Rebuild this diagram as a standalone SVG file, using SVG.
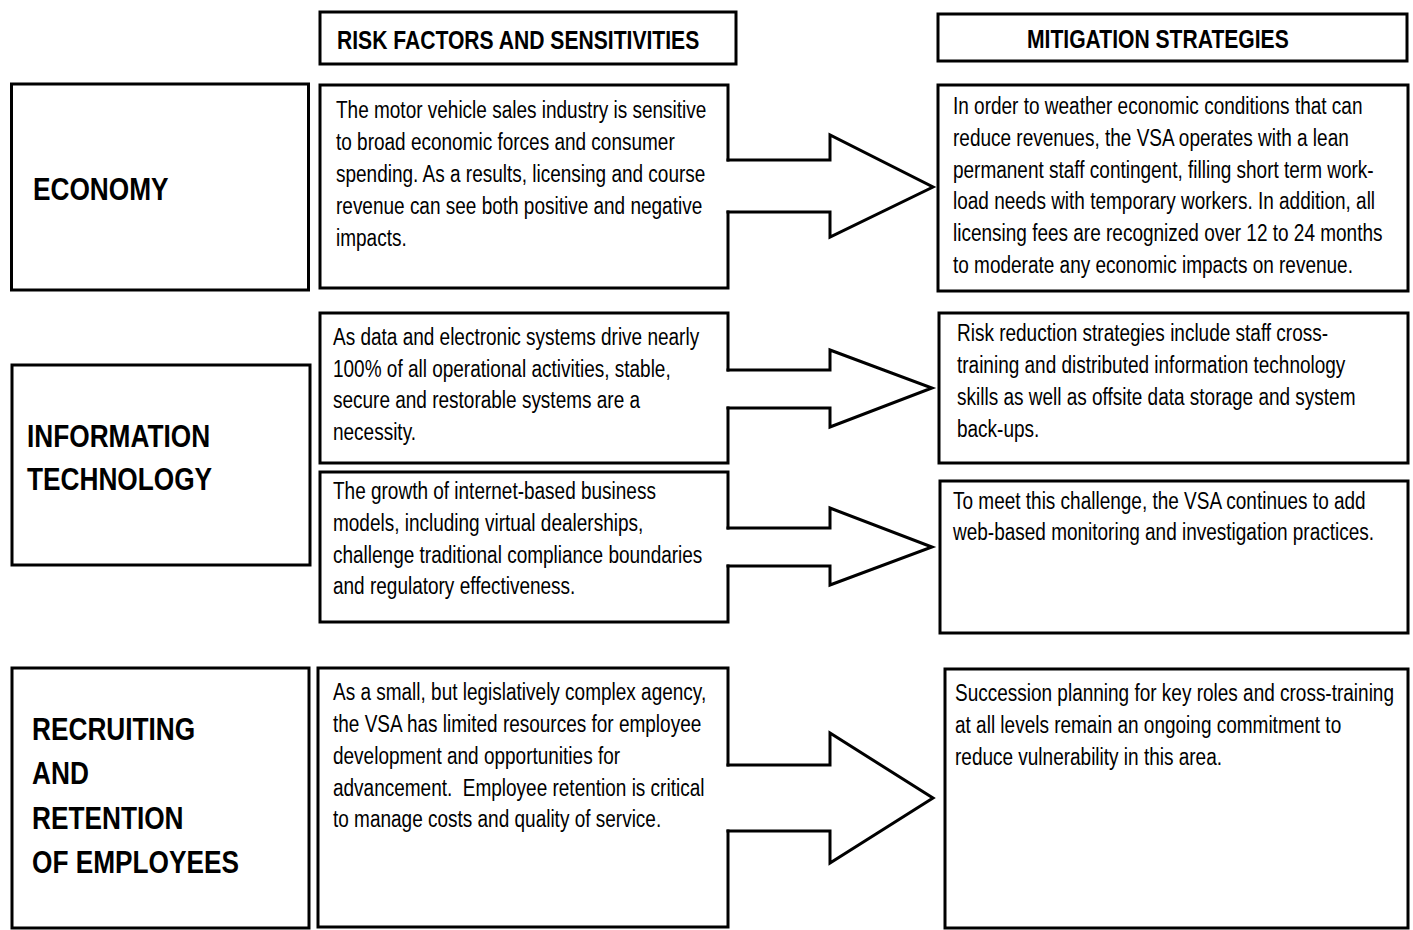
<svg xmlns="http://www.w3.org/2000/svg" width="1413" height="930" viewBox="0 0 1413 930">
<style>
.bx{fill:none;stroke:#000;stroke-width:3;stroke-linejoin:miter;stroke-linecap:square}
.ar{fill:none;stroke:#000;stroke-width:3;stroke-linejoin:miter;stroke-linecap:square}
.h{font-family:"Liberation Sans",Arial,sans-serif;font-weight:bold;font-size:25.5px;fill:#000}
.l{font-family:"Liberation Sans",Arial,sans-serif;font-weight:bold;font-size:32px;fill:#000}
.t{font-family:"Liberation Sans",Arial,sans-serif;font-size:23px;fill:#000;white-space:pre}
</style>
<rect width="1413" height="930" fill="#fff"/>
<g id="header-risk">
<rect class="bx" x="320" y="12" width="416" height="52"/>
<text class="h" transform="translate(337 0) scale(0.828 1)"><tspan x="0" y="49">RISK FACTORS AND SENSITIVITIES</tspan></text>
</g>
<g id="header-mitigation">
<rect class="bx" x="938" y="14" width="469" height="47"/>
<text class="h" transform="translate(1027 0) scale(0.828 1)"><tspan x="0" y="48">MITIGATION STRATEGIES</tspan></text>
</g>
<g id="label-economy">
<rect class="bx" x="11.5" y="84" width="297" height="206"/>
<text class="l" transform="translate(33 0) scale(0.82 1)"><tspan x="0" y="200">ECONOMY</tspan></text>
</g>
<g id="label-it">
<rect class="bx" x="12" y="365" width="298" height="200"/>
<text class="l" transform="translate(27 0) scale(0.82 1)"><tspan x="0" y="447">INFORMATION</tspan><tspan x="0" y="490">TECHNOLOGY</tspan></text>
</g>
<g id="label-recruiting">
<rect class="bx" x="12" y="668" width="297" height="260"/>
<text class="l" transform="translate(32 0) scale(0.82 1)"><tspan x="0" y="740">RECRUITING</tspan><tspan x="0" y="784">AND</tspan><tspan x="0" y="829">RETENTION</tspan><tspan x="0" y="873">OF EMPLOYEES</tspan></text>
</g>
<g id="risk-economy">
<path class="bx" d="M728,160 V85 H320 V288 H728 V212"/>
<text class="t" transform="translate(336 0) scale(0.826 1)"><tspan x="0" y="118">The motor vehicle sales industry is sensitive</tspan><tspan x="0" y="150">to broad economic forces and consumer</tspan><tspan x="0" y="182">spending. As a results, licensing and course</tspan><tspan x="0" y="214">revenue can see both positive and negative</tspan><tspan x="0" y="246">impacts.</tspan></text>
</g>
<g id="risk-it-systems">
<path class="bx" d="M728,370 V313 H320 V463 H728 V408"/>
<text class="t" transform="translate(333 0) scale(0.826 1)"><tspan x="0" y="345">As data and electronic systems drive nearly</tspan><tspan x="0" y="377">100% of all operational activities, stable,</tspan><tspan x="0" y="408">secure and restorable systems are a</tspan><tspan x="0" y="440">necessity.</tspan></text>
</g>
<g id="risk-it-internet">
<path class="bx" d="M728,528 V472 H320 V622 H728 V566"/>
<text class="t" transform="translate(333 0) scale(0.826 1)"><tspan x="0" y="499">The growth of internet-based business</tspan><tspan x="0" y="531">models, including virtual dealerships,</tspan><tspan x="0" y="563">challenge traditional compliance boundaries</tspan><tspan x="0" y="594">and regulatory effectiveness.</tspan></text>
</g>
<g id="risk-recruiting">
<path class="bx" d="M728,765 V668 H318 V927 H728 V831"/>
<text class="t" xml:space="preserve" transform="translate(333 0) scale(0.826 1)"><tspan x="0" y="700">As a small, but legislatively complex agency,</tspan><tspan x="0" y="732">the VSA has limited resources for employee</tspan><tspan x="0" y="764">development and opportunities for</tspan><tspan x="0" y="796">advancement.  Employee retention is critical</tspan><tspan x="0" y="827">to manage costs and quality of service.</tspan></text>
</g>
<g id="mitigation-economy">
<rect class="bx" x="938" y="85" width="470" height="206"/>
<text class="t" transform="translate(953 0) scale(0.826 1)"><tspan x="0" y="114">In order to weather economic conditions that can</tspan><tspan x="0" y="146">reduce revenues, the VSA operates with a lean</tspan><tspan x="0" y="178">permanent staff contingent, filling short term work-</tspan><tspan x="0" y="209">load needs with temporary workers. In addition, all</tspan><tspan x="0" y="241">licensing fees are recognized over 12 to 24 months</tspan><tspan x="0" y="273">to moderate any economic impacts on revenue.</tspan></text>
</g>
<g id="mitigation-it-systems">
<rect class="bx" x="939" y="313" width="469" height="150"/>
<text class="t" transform="translate(957 0) scale(0.826 1)"><tspan x="0" y="341">Risk reduction strategies include staff cross-</tspan><tspan x="0" y="373">training and distributed information technology</tspan><tspan x="0" y="405">skills as well as offsite data storage and system</tspan><tspan x="0" y="437">back-ups.</tspan></text>
</g>
<g id="mitigation-it-internet">
<rect class="bx" x="940" y="481" width="468" height="152"/>
<text class="t" transform="translate(953 0) scale(0.826 1)"><tspan x="0" y="509">To meet this challenge, the VSA continues to add</tspan><tspan x="0" y="540">web-based monitoring and investigation practices.</tspan></text>
</g>
<g id="mitigation-recruiting">
<rect class="bx" x="945" y="669" width="463" height="259"/>
<text class="t" transform="translate(955 0) scale(0.826 1)"><tspan x="0" y="701">Succession planning for key roles and cross-training</tspan><tspan x="0" y="733">at all levels remain an ongoing commitment to</tspan><tspan x="0" y="765">reduce vulnerability in this area.</tspan></text>
</g>
<g id="connectors">
<path class="ar" d="M728,160 H830 V135 L933,187 L830,237 V212 H728"/>
<path class="ar" d="M728,370 H830 V350 L932,388 L830,427 V408 H728"/>
<path class="ar" d="M728,528 H830 V508 L932,547 L830,585 V566 H728"/>
<path class="ar" d="M728,765 H830 V733 L933,798 L830,863 V831 H728"/>
</g>
</svg>
